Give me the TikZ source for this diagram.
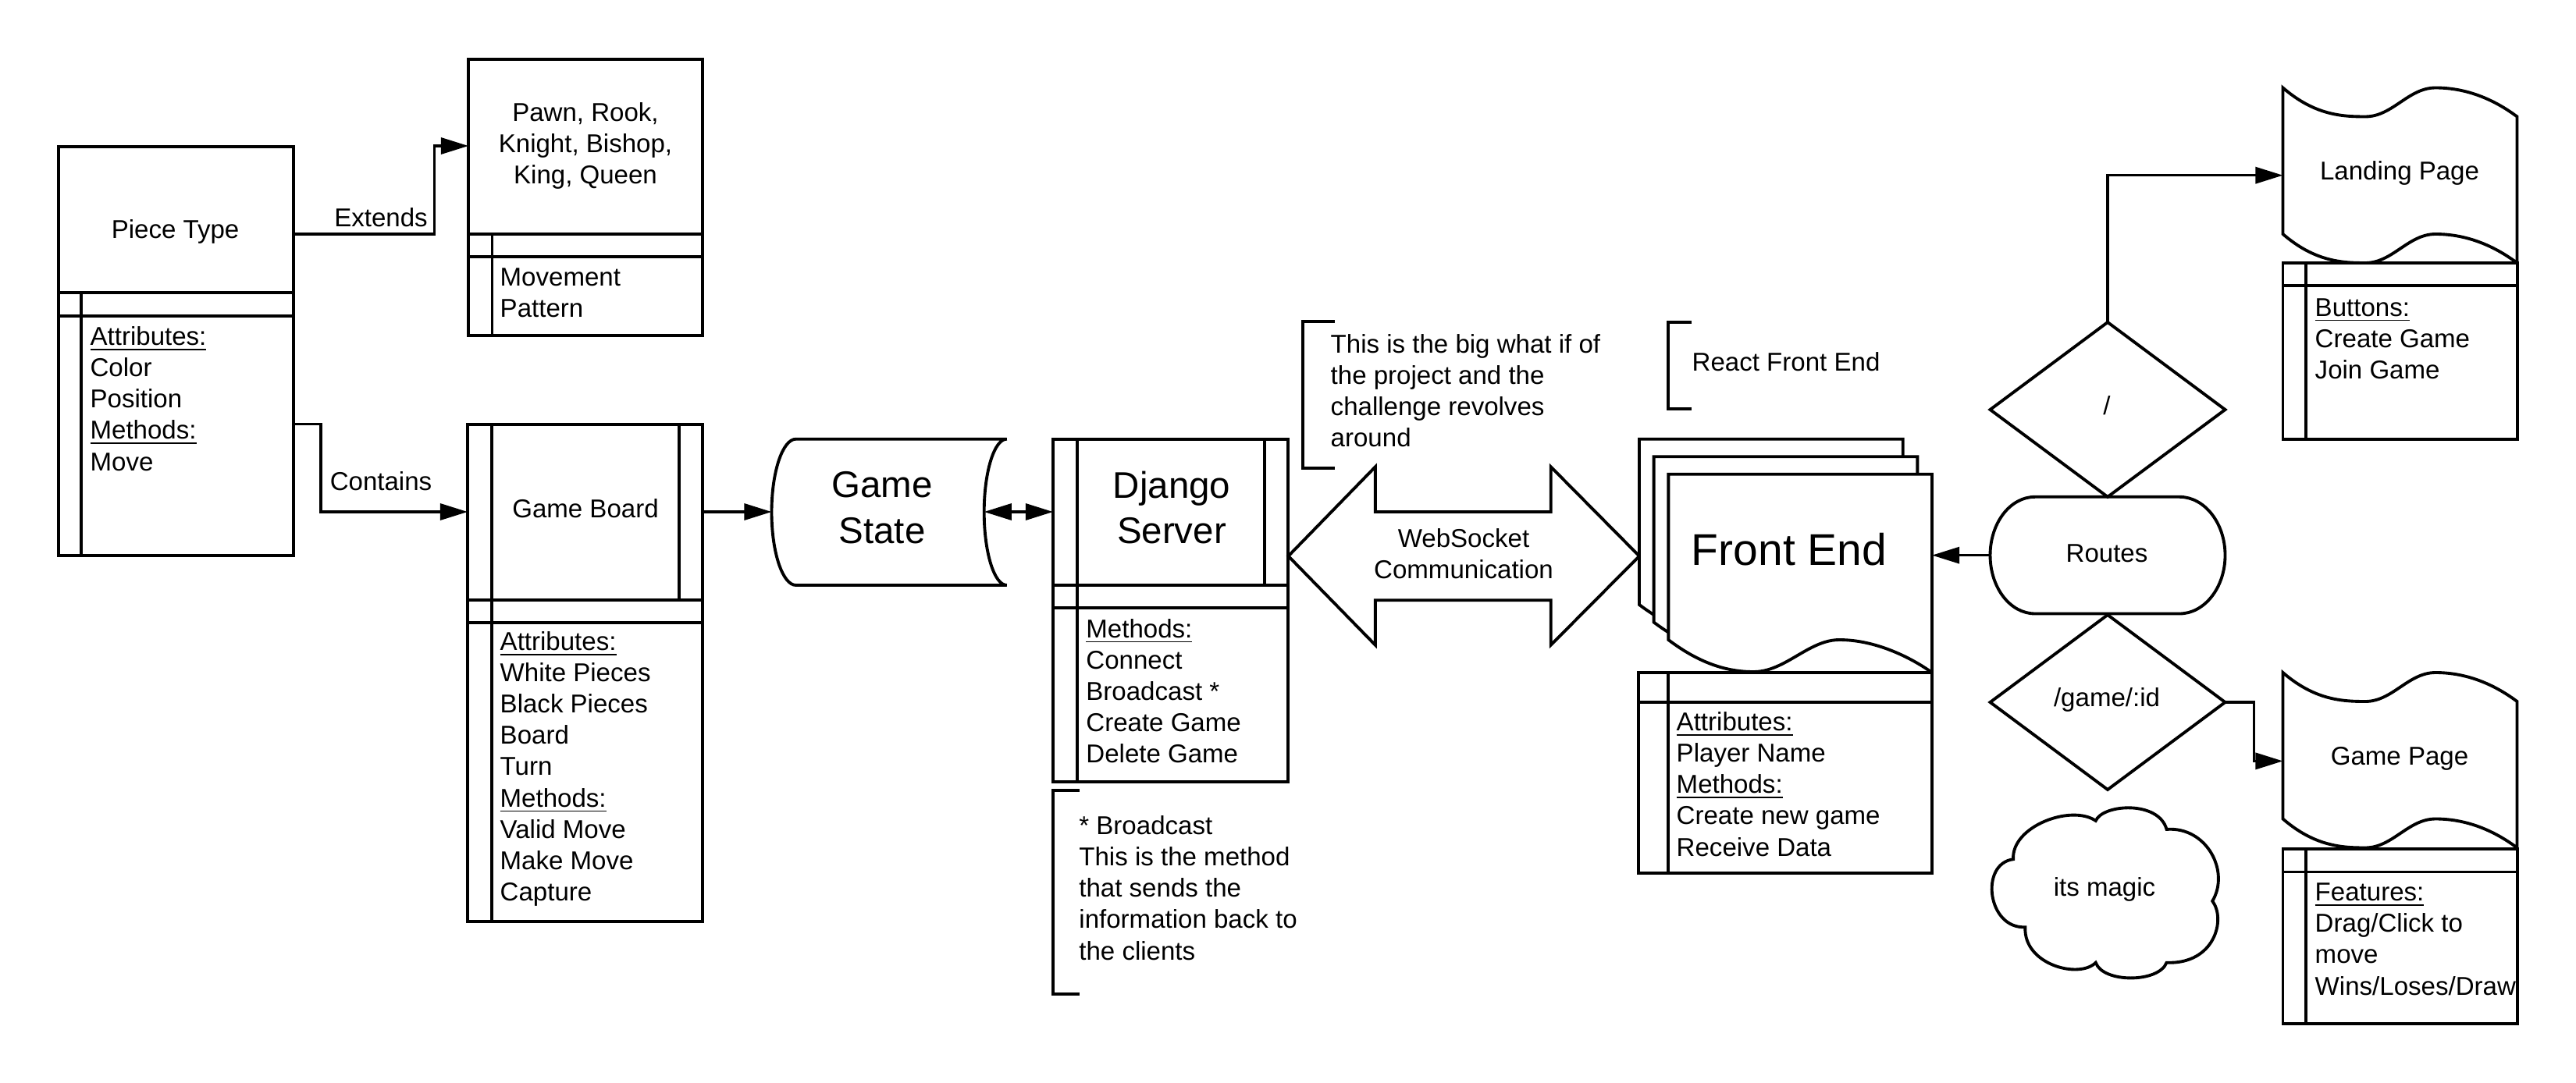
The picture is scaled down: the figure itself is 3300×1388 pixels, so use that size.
\documentclass[tikz,border=0pt]{standalone}
\usepackage{fontspec}
\setmainfont{Liberation Sans}
\usetikzlibrary{arrows.meta,calc}
\begin{document}
\begin{tikzpicture}[x=0.01cm,y=-0.01cm,
  >={Triangle[length=10pt,width=6pt]},
  shp/.style={draw, line width=1.1pt, fill=white},
  box/.style={shp, anchor=north west, inner sep=0pt, outer sep=0pt},
  ln/.style={line width=1.1pt},
  conn/.style={line width=0.9pt, ->},
  dbl/.style={line width=0.9pt, <->},
  sm/.style={font=\fontsize{9.4pt}{11.4pt}\selectfont, inner sep=0pt},
  lst/.style={sm, align=left, anchor=west},
  big/.style={font=\fontsize{13.5pt}{16.6pt}\selectfont, inner sep=0pt, align=center},
  ]
\useasboundingbox (0,0) rectangle (3300,1388);

% ---------- Piece Type
\node[box, minimum width=3.006cm, minimum height=5.24cm] (ptype) at (74.8,188) {};
\draw[ln] (74.8,375) -- (375.4,375) (74.8,405) -- (375.4,405) (104,375) -- (104,712);
\node[sm] (ptypet) at (224.6,296.6) {Piece Type};
\node[lst] (ptypeb) at (114.9,511) {\underline{Attributes:}\\Color\\Position\\\underline{Methods:}\\Move};

% ---------- Pawn etc.
\node[box, minimum width=3cm, minimum height=3.54cm] (pawn) at (600,75.6) {};
\draw[ln] (600,300) -- (900,300) (600,329) -- (900,329) (630.5,300) -- (630.5,429.6);
\node[sm, align=center] (pawnt) at (750,186.7) {Pawn, Rook,\\Knight, Bishop,\\King, Queen};
\node[lst] (pawnb) at (640,375.5) {Movement\\Pattern};

% ---------- Game Board
\node[box, minimum width=3.01cm, minimum height=6.37cm] (board) at (599,543.7) {};
\draw[ln] (599,768.7) -- (900,768.7) (599,798) -- (900,798) (630,543.7) -- (630,1180.7) (870,543.7) -- (870,768.7);
\node[sm] (boardt) at (750,651.7) {Game Board};
\node[lst] (boardb) at (640,985.4) {\underline{Attributes:}\\White Pieces\\Black Pieces\\Board\\Turn\\\underline{Methods:}\\Valid Move\\Make Move\\Capture};

% ---------- connectors Piece Type
\coordinate (ext0) at (375.4,300);
\coordinate (ext1) at (600,187);
\draw[conn] (ext0) -- (556.4,300) |- (ext1);
\node[sm] (extl) at (488,279) {Extends};
\coordinate (con0) at (375.4,543.5);

% ---------- Game State
\draw[shp] (1289.7,562.7) -- (1019.7,562.7) .. controls (1002.6,562.7) and (988.5,604.6) .. (988.5,656.35) .. controls (988.5,708.1) and (1002.6,750) .. (1019.7,750) -- (1289.7,750) .. controls (1273.7,750) and (1260.7,708.1) .. (1260.7,656.35) .. controls (1260.7,604.6) and (1273.7,562.7) .. cycle;
\node[big] (gstate) at (1130,650.8) {Game\\State};
\coordinate (gsL) at (988.5,656);
\coordinate (gsR) at (1260.7,656);

\draw[conn] (con0) -- (411,543.5) |- (board.west |- gsL);
\node[sm] (conl) at (488,617) {Contains};
\draw[conn] (board.east |- gsL) -- (gsL);

% ---------- Django
\node[box, minimum width=3.01cm, minimum height=4.39cm] (django) at (1349,562.7) {};
\draw[ln] (1349,750) -- (1650,750) (1349,779) -- (1650,779) (1380,562.7) -- (1380,1001.7) (1620,562.7) -- (1620,750);
\node[big] (djangot) at (1501,650.8) {Django\\Server};
\node[lst] (djangob) at (1390.7,885.9) {\underline{Methods:}\\Connect\\Broadcast *\\Create Game\\Delete Game};
\draw[dbl] (gsR) -- (django.west |- gsR);

% ---------- notes
\draw[ln] (1383,1012.7) -- (1349.3,1012.7) -- (1349.3,1274) -- (1383,1274);
\node[lst] (bnote) at (1381.7,1138) {* Broadcast\\This is the method\\that sends the\\information back to\\the clients};
\draw[ln] (1709.5,412.3) -- (1668.7,412.3) -- (1668.7,600) -- (1709.5,600);
\node[lst] (whatif) at (1704,500.8) {This is the big what if of\\the project and the\\challenge revolves\\around};

% ---------- WebSocket
\draw[shp] (1650.4,712.7) -- (1761.8,598.3) -- (1761.8,656) -- (1986.7,656) -- (1986.7,598.3) -- (2100,712.7) -- (1986.7,826.7) -- (1986.7,769.3) -- (1761.8,769.3) -- (1761.8,826.7) -- cycle;
\node[sm, align=center] (ws) at (1875,710) {WebSocket\\Communication};

% ---------- Front End pages
\foreach \s in {2,1,0} {
  \begin{scope}[shift={(-18.65*\s,-22.5*\s)}]
    \draw[shp] (2137.3,820) -- (2137.3,607.7) -- (2475,607.7) -- (2475,862)
      .. controls (2447,842) and (2402,820) .. (2356.3,820)
      .. controls (2317,820) and (2287,861) .. (2246.3,861)
      .. controls (2212,861) and (2177,850) .. (2137.3,820) -- cycle;
  \end{scope}
}
\node[font=\fontsize{16.2pt}{19pt}\selectfont, inner sep=0pt] (fe) at (2292,703.7) {Front End};
\node[box, minimum width=3.757cm, minimum height=2.57cm] (fetab) at (2099.3,862) {};
\draw[ln] (2099.3,899.6) -- (2475,899.6) (2137.3,862) -- (2137.3,1119);
\node[lst] (feb) at (2147,1005) {\underline{Attributes:}\\Player Name\\\underline{Methods:}\\Create new game\\Receive Data};
\coordinate (feR) at (2475,711.65);

\draw[ln] (2167,413) -- (2137,413) -- (2137,524) -- (2167,524);
\node[sm, anchor=west] (react) at (2167,463.4) {React Front End};

% ---------- Routes
\draw[shp] (2607,636.8) -- (2792,636.8) .. controls (2824,636.8) and (2850.5,670.3) .. (2850.5,711.65) .. controls (2850.5,753) and (2824,786.5) .. (2792,786.5) -- (2607,786.5) .. controls (2575,786.5) and (2549.5,753) .. (2549.5,711.65) .. controls (2549.5,670.3) and (2575,636.8) .. (2607,636.8) -- cycle;
\node[sm] (routes) at (2699,709) {Routes};
\coordinate (routesL) at (2549.5,711.65);
\draw[conn] (routesL) -- (feR);

% ---------- diamonds
\draw[shp] (2700,413) -- (2850.5,525) -- (2700,636.8) -- (2549.5,525) -- cycle;
\node[sm] (root) at (2699,520) {/};
\coordinate (rootT) at (2700,413);
\coordinate (landL) at (2924.5,224.7);
\draw[conn] (rootT) |- (landL);

\draw[shp] (2700,788) -- (2850.5,900) -- (2700,1012) -- (2549.5,900) -- cycle;
\node[sm] (gid) at (2699,896.5) {/game/:id};
\coordinate (gidR) at (2850.5,900);
\coordinate (gpL) at (2924.5,975.4);
\draw[conn] (gidR) -- (2887.8,900) |- (gpL);

% ---------- tapes
\foreach \yo in {112.5,862} {
  \begin{scope}[shift={(0,\yo)}]
    \draw[shp] (2924.5,0) .. controls (2965,35) and (3000,37) .. (3030,37) .. controls (3065,37) and (3085,0) .. (3120,0) .. controls (3160,0) and (3195,15) .. (3224.5,37)
      -- (3224.5,224.5) .. controls (3195,202.5) and (3160,187.5) .. (3120,187.5) .. controls (3085,187.5) and (3065,224.5) .. (3030,224.5) .. controls (3000,224.5) and (2965,222.5) .. (2924.5,187.5) -- cycle;
  \end{scope}
}
\node[sm] (land) at (3074,222.4) {Landing Page};
\node[sm] (gpage) at (3074,972) {Game Page};

\node[box, minimum width=3cm, minimum height=2.26cm] (landtab) at (2924.5,337) {};
\draw[ln] (2924.5,366) -- (3224.5,366) (2954,337) -- (2954,563);
\node[lst] (landb) at (2965,434) {\underline{Buttons:}\\Create Game\\Join Game};

\node[box, minimum width=3cm, minimum height=2.238cm] (gptab) at (2924.5,1087.8) {};
\draw[ln] (2924.5,1117.5) -- (3224.5,1117.5) (2954,1087.8) -- (2954,1311.6);
\node[lst] (gpb) at (2965,1203.7) {\underline{Features:}\\Drag/Click to\\move\\Wins/Loses/Draw};

% ---------- cloud
\draw[shp] (2579.1,1101.2) .. controls (2576.5,1059.1) and (2653.1,1030.4) .. (2684.7,1051.9)
  .. controls (2693.9,1030.4) and (2765.3,1025.6) .. (2775.5,1062.9)
  .. controls (2826.5,1059.1) and (2857.1,1116.5) .. (2834.2,1154.8)
  .. controls (2852,1178.7) and (2836.7,1236.1) .. (2775.5,1233.7)
  .. controls (2765.3,1260) and (2693.9,1260) .. (2684.7,1233.7)
  .. controls (2663.3,1255.2) and (2591.8,1236.1) .. (2594.4,1188.2)
  .. controls (2545.9,1190.6) and (2535.7,1106.9) .. (2579.1,1101.2) -- cycle;
\node[sm] (magic) at (2696,1140) {its magic};
\end{tikzpicture}
\end{document}
